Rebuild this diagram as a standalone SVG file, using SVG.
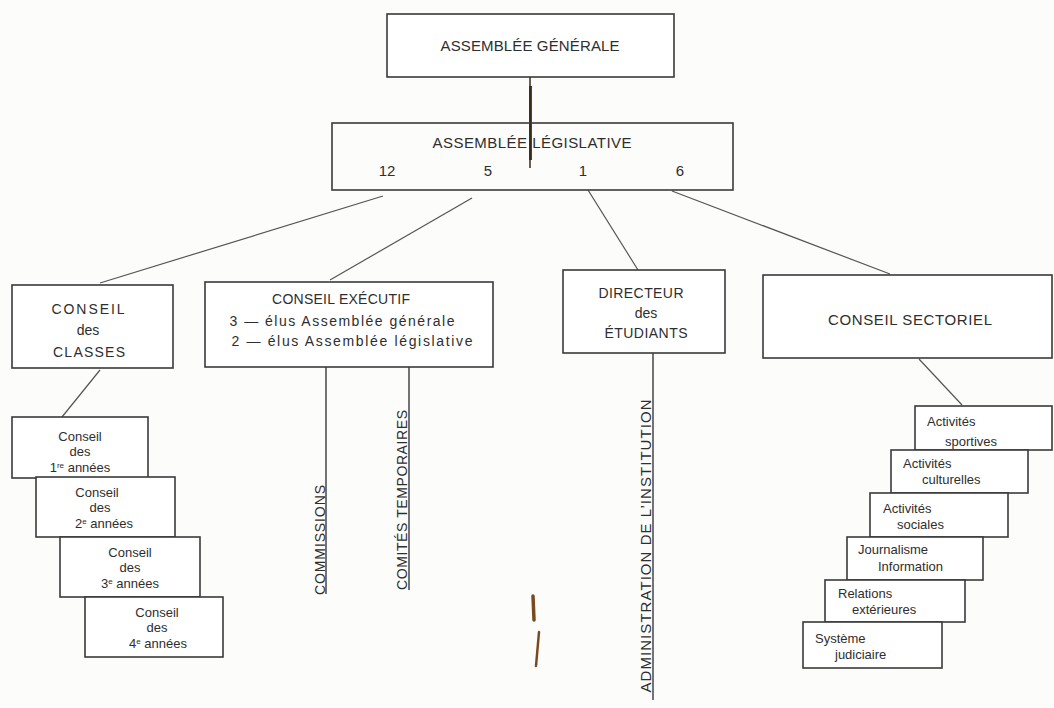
<svg xmlns="http://www.w3.org/2000/svg" width="1054" height="708" viewBox="0 0 1054 708">
<defs>
<style>
.box{fill:#ffffff;stroke:#3a3a3a;stroke-width:1.6}
.ln{fill:none;stroke:#555;stroke-width:1.2}
.vl{fill:none;stroke:#3a3a3a;stroke-width:1.4}
text{font-family:"Liberation Sans","DejaVu Sans",sans-serif;fill:#2e2e2e}
.t15{font-size:15px}
.t14{font-size:14px}
.t13{font-size:13px}
.c{text-anchor:middle}
.stain{fill:none;stroke:#7a4a1e;stroke-linecap:round}
</style>
</defs>
<rect x="0" y="0" width="1054" height="708" fill="#fcfcfb"/>

<g id="connectors">
  <line class="ln" x1="383" y1="196" x2="100" y2="283"/>
  <line class="ln" x1="472" y1="198" x2="330" y2="280"/>
  <line class="ln" x1="588" y1="190" x2="638" y2="270"/>
  <line class="ln" x1="672" y1="191" x2="890" y2="274"/>
  <line class="ln" x1="100" y1="370" x2="62" y2="417"/>
  <line class="ln" x1="919" y1="359" x2="962" y2="405"/>
  <line class="vl" x1="326" y1="367" x2="326" y2="594"/>
  <line class="vl" x1="409" y1="367" x2="409" y2="590"/>
  <line class="vl" x1="653" y1="352" x2="653" y2="700"/>
  <line x1="530" y1="77" x2="530" y2="168" stroke="#3b2b1c" stroke-width="1.5"/>
  <line x1="530.5" y1="86" x2="530.5" y2="160" stroke="#3b2b1c" stroke-width="2.8"/>
</g>

<g id="assemblee-generale">
  <rect class="box" x="387" y="14" width="287" height="63"/>
  <text class="t15 c" x="530" y="51" textLength="179" lengthAdjust="spacing">ASSEMBLÉE  GÉNÉRALE</text>
</g>

<g id="assemblee-legislative">
  <rect class="box" x="332" y="123" width="401" height="67" fill-opacity="0"/>
  <text class="t15 c" x="532" y="148" textLength="199" lengthAdjust="spacing">ASSEMBLÉE  LÉGISLATIVE</text>
  <text class="t15 c" x="387" y="176">12</text>
  <text class="t15 c" x="488" y="176">5</text>
  <text class="t15 c" x="583" y="176">1</text>
  <text class="t15 c" x="680" y="176">6</text>
</g>

<g id="conseil-classes">
  <rect class="box" x="12" y="285" width="161" height="83"/>
  <text class="t14 c" x="88" y="314" textLength="73" lengthAdjust="spacing">CONSEIL</text>
  <text class="t14 c" x="88" y="335">des</text>
  <text class="t14 c" x="89" y="357" textLength="72" lengthAdjust="spacing">CLASSES</text>
</g>

<g id="conseil-executif">
  <rect class="box" x="205" y="282" width="288" height="85"/>
  <text class="t14 c" x="341" y="304" textLength="138" lengthAdjust="spacing">CONSEIL  EXÉCUTIF</text>
  <text class="t14 c" x="342" y="326" textLength="225" lengthAdjust="spacing">3 — élus Assemblée générale</text>
  <text class="t14 c" x="352" y="346" textLength="241" lengthAdjust="spacing">2 — élus Assemblée législative</text>
</g>

<g id="directeur-etudiants">
  <rect class="box" x="563" y="270" width="162" height="83"/>
  <text class="t14 c" x="641" y="298" textLength="85" lengthAdjust="spacing">DIRECTEUR</text>
  <text class="t14 c" x="646" y="318">des</text>
  <text class="t14 c" x="646" y="338" textLength="83" lengthAdjust="spacing">ÉTUDIANTS</text>
</g>

<g id="conseil-sectoriel">
  <rect class="box" x="763" y="275" width="289" height="83"/>
  <text class="t15 c" x="910" y="325" textLength="164" lengthAdjust="spacing">CONSEIL  SECTORIEL</text>
</g>

<g id="commissions">
  <text class="t14 c" transform="translate(325,540) rotate(-90)" textLength="110" lengthAdjust="spacing">COMMISSIONS</text>
</g>
<g id="comites-temporaires">
  <text class="t14 c" transform="translate(407,500) rotate(-90)" textLength="180" lengthAdjust="spacing">COMITÉS  TEMPORAIRES</text>
</g>
<g id="administration">
  <text class="t15 c" transform="translate(651,546) rotate(-90)" textLength="293" lengthAdjust="spacing">ADMINISTRATION  DE  L’INSTITUTION</text>
</g>

<g id="conseil-1">
  <rect class="box" x="12" y="417" width="136" height="61"/>
  <text class="t13 c" x="80" y="441">Conseil</text>
  <text class="t13 c" x="80" y="456">des</text>
  <text class="t13 c" x="80" y="472">1<tspan font-size="8" dy="-4">re</tspan><tspan dy="4"> années</tspan></text>
</g>
<g id="conseil-2">
  <rect class="box" x="36" y="477" width="139" height="60"/>
  <text class="t13 c" x="97" y="497">Conseil</text>
  <text class="t13 c" x="100" y="512">des</text>
  <text class="t13 c" x="104" y="528">2<tspan font-size="8" dy="-4">e</tspan><tspan dy="4"> années</tspan></text>
</g>
<g id="conseil-3">
  <rect class="box" x="60" y="537" width="140" height="60"/>
  <text class="t13 c" x="130" y="557">Conseil</text>
  <text class="t13 c" x="130" y="572">des</text>
  <text class="t13 c" x="130" y="588">3<tspan font-size="8" dy="-4">e</tspan><tspan dy="4"> années</tspan></text>
</g>
<g id="conseil-4">
  <rect class="box" x="85" y="597" width="138" height="60"/>
  <text class="t13 c" x="157" y="617">Conseil</text>
  <text class="t13 c" x="157" y="632">des</text>
  <text class="t13 c" x="158" y="648">4<tspan font-size="8" dy="-4">e</tspan><tspan dy="4"> années</tspan></text>
</g>

<g id="activites-sportives">
  <rect class="box" x="915" y="406" width="137" height="44"/>
  <text class="t13" x="927" y="426">Activités</text>
  <text class="t13" x="945" y="446">sportives</text>
</g>
<g id="activites-culturelles">
  <rect class="box" x="891" y="450" width="137" height="43"/>
  <text class="t13" x="903" y="468">Activités</text>
  <text class="t13" x="922" y="484">culturelles</text>
</g>
<g id="activites-sociales">
  <rect class="box" x="870" y="493" width="138" height="44"/>
  <text class="t13" x="883" y="513">Activités</text>
  <text class="t13" x="897" y="529">sociales</text>
</g>
<g id="journalisme">
  <rect class="box" x="847" y="537" width="136" height="43"/>
  <text class="t13" x="858" y="554">Journalisme</text>
  <text class="t13" x="878" y="571">Information</text>
</g>
<g id="relations">
  <rect class="box" x="825" y="580" width="140" height="42"/>
  <text class="t13" x="838" y="598">Relations</text>
  <text class="t13" x="852" y="614">extérieures</text>
</g>
<g id="systeme">
  <rect class="box" x="803" y="622" width="139" height="46"/>
  <text class="t13" x="815" y="643">Système</text>
  <text class="t13" x="835" y="659">judiciaire</text>
</g>

<g id="stains">
  <path class="stain" d="M533 596 L534 620" stroke-width="3.5"/>
  <path class="stain" d="M539 632 L536 666" stroke-width="2.5"/>
</g>
</svg>
